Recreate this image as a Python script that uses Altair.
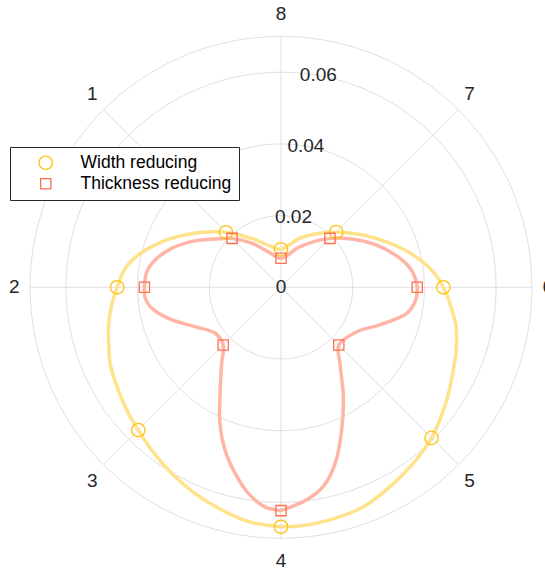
import altair as alt
import pandas as pd
import numpy as np

# ---- data (angle in degrees, 0 = right, counter-clockwise) ----
w_angle = [-90, -85.5, -78.1, -69.4, -61.3, -53.1, -45, -34.2, -25.6, -19.7, -13.1, -7.0, 0, 5.8, 13.7, 22.0,
           32.4, 45, 54.2, 68.8, 90,
           102.9, 120.9, 135, 141.3, 150.2, 159.1, 167.2, 173.1, 180, 186, 193.4, 199, 204, 212.3, 219.5,
           225, 231.5, 239.6, 247.3, 255.1, 262.1, 270]
w_r = [0.0668, 0.0668, 0.0663, 0.0654, 0.0634, 0.0614, 0.0594, 0.0559, 0.0533, 0.0519, 0.0502, 0.0479, 0.0453,
       0.0427, 0.0380, 0.0328, 0.0272, 0.0218, 0.0186, 0.0147, 0.0106,
       0.0116, 0.0159, 0.0217, 0.0248, 0.0298, 0.0356, 0.0408, 0.0438, 0.0457, 0.0475, 0.0495, 0.0508, 0.0522,
       0.0537, 0.0552, 0.0563, 0.0580, 0.0602, 0.0623, 0.0643, 0.0660, 0.0668]

t_angle = [-90, -83.1, -78, -72.9, -67, -60.3, -52.2, -45, -30.4, -20.8, -11.7, -6.1, 0, 8.4, 18.1,
           29.4, 45, 64.9, 90,
           109.6, 123.7, 135, 143.8, 151.7, 160.4, 168.7, 173.4, 180, 184.6, 189.2, 195.4, 204.6,
           214.9, 225, 232, 240.9, 245.8, 251, 256.1, 261, 265.8, 270]
t_r = [0.0623, 0.0597, 0.0568, 0.0514, 0.0433, 0.0351, 0.0268, 0.0228, 0.0245, 0.0295, 0.0358, 0.0376,
       0.0380, 0.0364, 0.0320, 0.0263, 0.0193, 0.0125, 0.0081,
       0.0105, 0.0148, 0.0193, 0.0228, 0.0273, 0.0324, 0.0363, 0.0377, 0.0381, 0.0380, 0.0365, 0.0326,
       0.0264, 0.0224, 0.0228, 0.0269, 0.0350, 0.0416, 0.0480, 0.0534, 0.0582, 0.0614, 0.0623]

dir_labels = ["1", "2", "3", "4", "5", "6", "7", "8"]
dir_angles = [135, 180, 225, 270, 315, 0, 45, 90]
marker_w = [0.0217, 0.0457, 0.0563, 0.0668, 0.0594, 0.0453, 0.0218, 0.0106]
marker_t = [0.0193, 0.0381, 0.0228, 0.0623, 0.0228, 0.0380, 0.0193, 0.0081]

ring_values = [0.02, 0.04, 0.06, 0.07]
r_tick_values = [0, 0.02, 0.04, 0.06]
r_tick_labels = ["0", "0.02", "0.04", "0.06"]
r_max = 0.07

series_names = ["Width reducing", "Thickness reducing"]

# ---- layout ----
W, H = 545, 570
S = 3585.0             # pixels per data unit
cx, cy = 281.0, 287.3  # centre in pixels
xdom = [-cx / S, (W - cx) / S]
ydom = [-(H - cy) / S, cy / S]
FONT = "Liberation Sans"

X = lambda: alt.X("x:Q", scale=alt.Scale(domain=xdom, nice=False, zero=False), axis=None)
Y = lambda: alt.Y("y:Q", scale=alt.Scale(domain=ydom, nice=False, zero=False), axis=None)

polar = dict(x="datum.r * cos(datum.a * PI / 180)", y="datum.r * sin(datum.a * PI / 180)")

# grid rings
ring_df = pd.DataFrame([(rv, a) for rv in ring_values for a in np.arange(0, 361, 3)], columns=["r", "a"])
rings = alt.Chart(ring_df).transform_calculate(**polar).mark_line(
    stroke="#e0e0e0", strokeWidth=1).encode(x=X(), y=Y(), detail="r:N", order="a:Q")

# spokes
spoke_df = pd.DataFrame({"a": dir_angles, "r": [r_max] * 8})
spokes = alt.Chart(spoke_df).transform_calculate(**polar, x0="0", y0="0").mark_rule(
    stroke="#e0e0e0", strokeWidth=1).encode(x=X(), y=Y(), x2="x0:Q", y2="y0:Q")

# curves
w_df = pd.DataFrame({"a": w_angle, "r": w_r, "i": range(len(w_r))})
t_df = pd.DataFrame({"a": t_angle, "r": t_r, "i": range(len(t_r))})
w_line = alt.Chart(w_df).transform_calculate(**polar).mark_line(
    stroke="#FFE28A", strokeWidth=3.5, interpolate="catmull-rom").encode(x=X(), y=Y(), order="i:Q")
t_line = alt.Chart(t_df).transform_calculate(**polar).mark_line(
    stroke="#FFB5A6", strokeWidth=3.5, interpolate="catmull-rom").encode(x=X(), y=Y(), order="i:Q")

# markers
m_df = pd.concat([
    pd.DataFrame({"a": dir_angles, "r": marker_w, "series": series_names[0]}),
    pd.DataFrame({"a": dir_angles, "r": marker_t, "series": series_names[1]}),
])
markers = alt.Chart(m_df).transform_calculate(**polar).mark_point(
    filled=False, strokeWidth=1.3, opacity=1).encode(
    x=X(), y=Y(),
    shape=alt.Shape("series:N", scale=alt.Scale(domain=series_names, range=["circle", "square"]), title=None),
    stroke=alt.Stroke("series:N", scale=alt.Scale(domain=series_names, range=["#FFC20E", "#FF6E4E"]), title=None),
    size=alt.Size("series:N", scale=alt.Scale(domain=series_names, range=[180, 105]), title=None),
)

# radial tick labels (at 80 degrees)
rt_df = pd.DataFrame({"r": r_tick_values, "label": r_tick_labels, "a": [80] * 4})
rticks = alt.Chart(rt_df).transform_calculate(**polar).mark_text(
    font=FONT, fontSize=19, color="#262626", align="center", baseline="middle").encode(
    x=X(), y=Y(), text="label:N")

# angular labels (slightly further out vertically than horizontally)
th_df = pd.DataFrame({"a": dir_angles, "label": dir_labels})
tlabels = alt.Chart(th_df).transform_calculate(
    x="0.0744 * cos(datum.a * PI / 180)", y="0.0763 * sin(datum.a * PI / 180)"
).mark_text(
    font=FONT, fontSize=19, color="#262626", align="center", baseline="middle").encode(
    x=X(), y=Y(), text="label:N")

chart = alt.layer(rings, spokes, w_line, t_line, markers, rticks, tlabels).properties(
    width=W, height=H, autosize=alt.AutoSizeParams(type="none"), padding=0
).configure_view(stroke=None).configure_legend(
    orient="none", legendX=10, legendY=147, strokeColor="#262626", fillColor="white",
    padding=7, labelFont=FONT, labelFontSize=17.5, labelColor="#000000",
    symbolOffset=20, labelOffset=26, rowPadding=1, symbolStrokeWidth=1.3,
    cornerRadius=0
)

chart.save("out.html", embed_options={"renderer": "svg", "actions": False})
